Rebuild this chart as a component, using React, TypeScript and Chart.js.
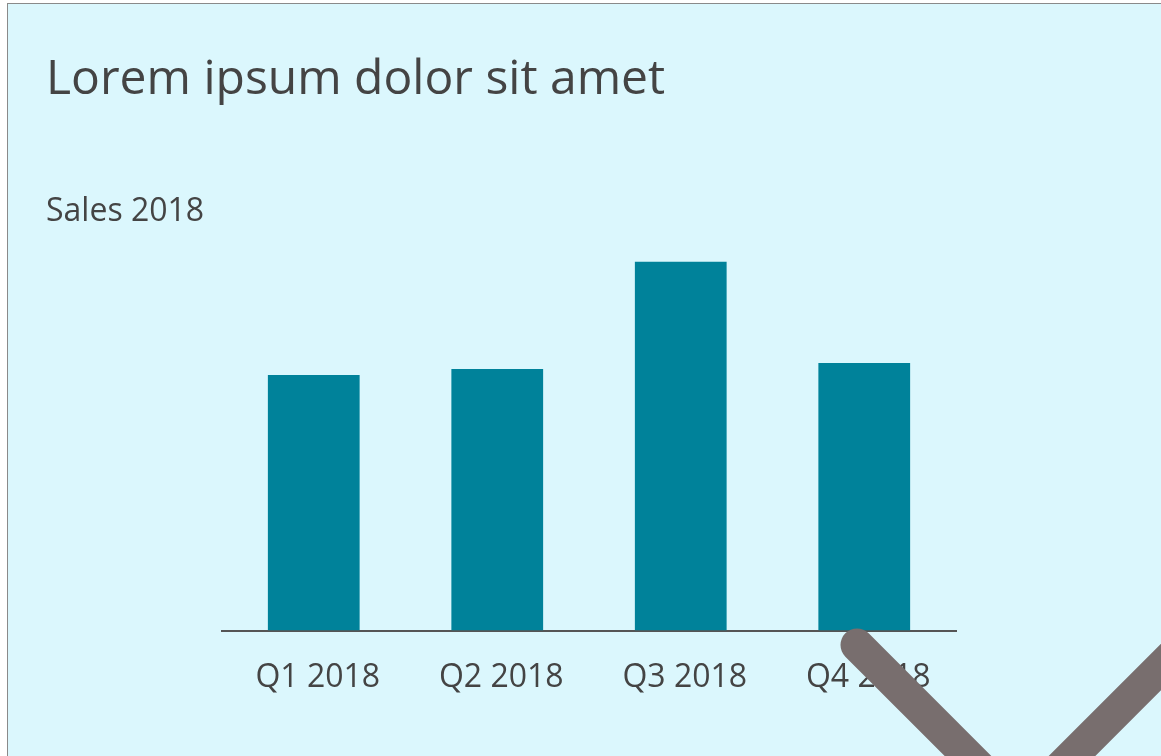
import React, { useEffect, useRef } from "react";
import { Chart, registerables } from "chart.js";

Chart.register(...registerables);

const titleText = "Lorem ipsum dolor sit amet";
const subtitleText = "Sales 2018";
const categories = ["Q1 2018", "Q2 2018", "Q3 2018", "Q4 2018"];
const salesValues = [68.4, 70.0, 98.7, 71.6];
const yMax = 100;

const FONT = "'Open Sans', 'Noto Sans', sans-serif";
const TEXT_COLOR = "#444444";
const BAR_COLOR = "#00829a";
const BG_COLOR = "#dbf7fd";

export default function App() {
  const canvasRef = useRef<HTMLCanvasElement | null>(null);

  useEffect(() => {
    const canvas = canvasRef.current;
    if (!canvas) return;
    const chart = new Chart(canvas, {
      type: "bar",
      data: {
        labels: categories,
        datasets: [
          {
            label: subtitleText,
            data: salesValues,
            backgroundColor: BAR_COLOR,
            borderWidth: 0,
            barPercentage: 0.5,
            categoryPercentage: 1,
          },
        ],
      },
      options: {
        responsive: false,
        animation: false,
        layout: { padding: { left: 38, right: 205, top: 0, bottom: 31 } },
        plugins: {
          legend: { display: false },
          tooltip: { enabled: false },
          title: {
            display: true,
            text: titleText,
            align: "start",
            color: TEXT_COLOR,
            font: { family: FONT, size: 48, weight: "normal", lineHeight: 1.2 },
            padding: { top: 48, bottom: 40 },
          },
          subtitle: {
            display: true,
            text: subtitleText,
            align: "start",
            color: TEXT_COLOR,
            font: { family: FONT, size: 32, weight: "normal", lineHeight: 1.2 },
            padding: { top: 43, bottom: 26 },
          },
        },
        scales: {
          x: {
            grid: { display: false, drawTicks: false },
            border: { display: true, color: "#555555", width: 2 },
            ticks: {
              color: TEXT_COLOR,
              font: { family: FONT, size: 32, lineHeight: 1.2 },
              padding: 28,
              labelOffset: 4,
              maxRotation: 0,
            },
          },
          y: {
            min: 0,
            max: yMax,
            grid: { display: false, drawTicks: false },
            border: { display: false },
            ticks: { display: false },
            afterFit: (scale: any) => {
              scale.width = 176;
            },
          },
        },
      },
    });
    return () => chart.destroy();
  }, []);

  return (
    <div
      style={{
        position: "absolute",
        left: 7,
        top: 3,
        width: 1154,
        height: 753,
        boxSizing: "border-box",
        borderLeft: "1px solid #8a8a8a",
        borderTop: "1px solid #8a8a8a",
        background: BG_COLOR,
        overflow: "hidden",
      }}
    >
      <canvas ref={canvasRef} width={1153} height={752} style={{ display: "block" }} />
      <svg
        width={1153}
        height={752}
        style={{ position: "absolute", left: 0, top: 0, pointerEvents: "none" }}
      >
        <polyline
          points="849,641 1012,804 1192,624"
          fill="none"
          stroke="#786e6e"
          strokeWidth={33}
          strokeLinecap="round"
          strokeLinejoin="round"
        />
      </svg>
    </div>
  );
}
